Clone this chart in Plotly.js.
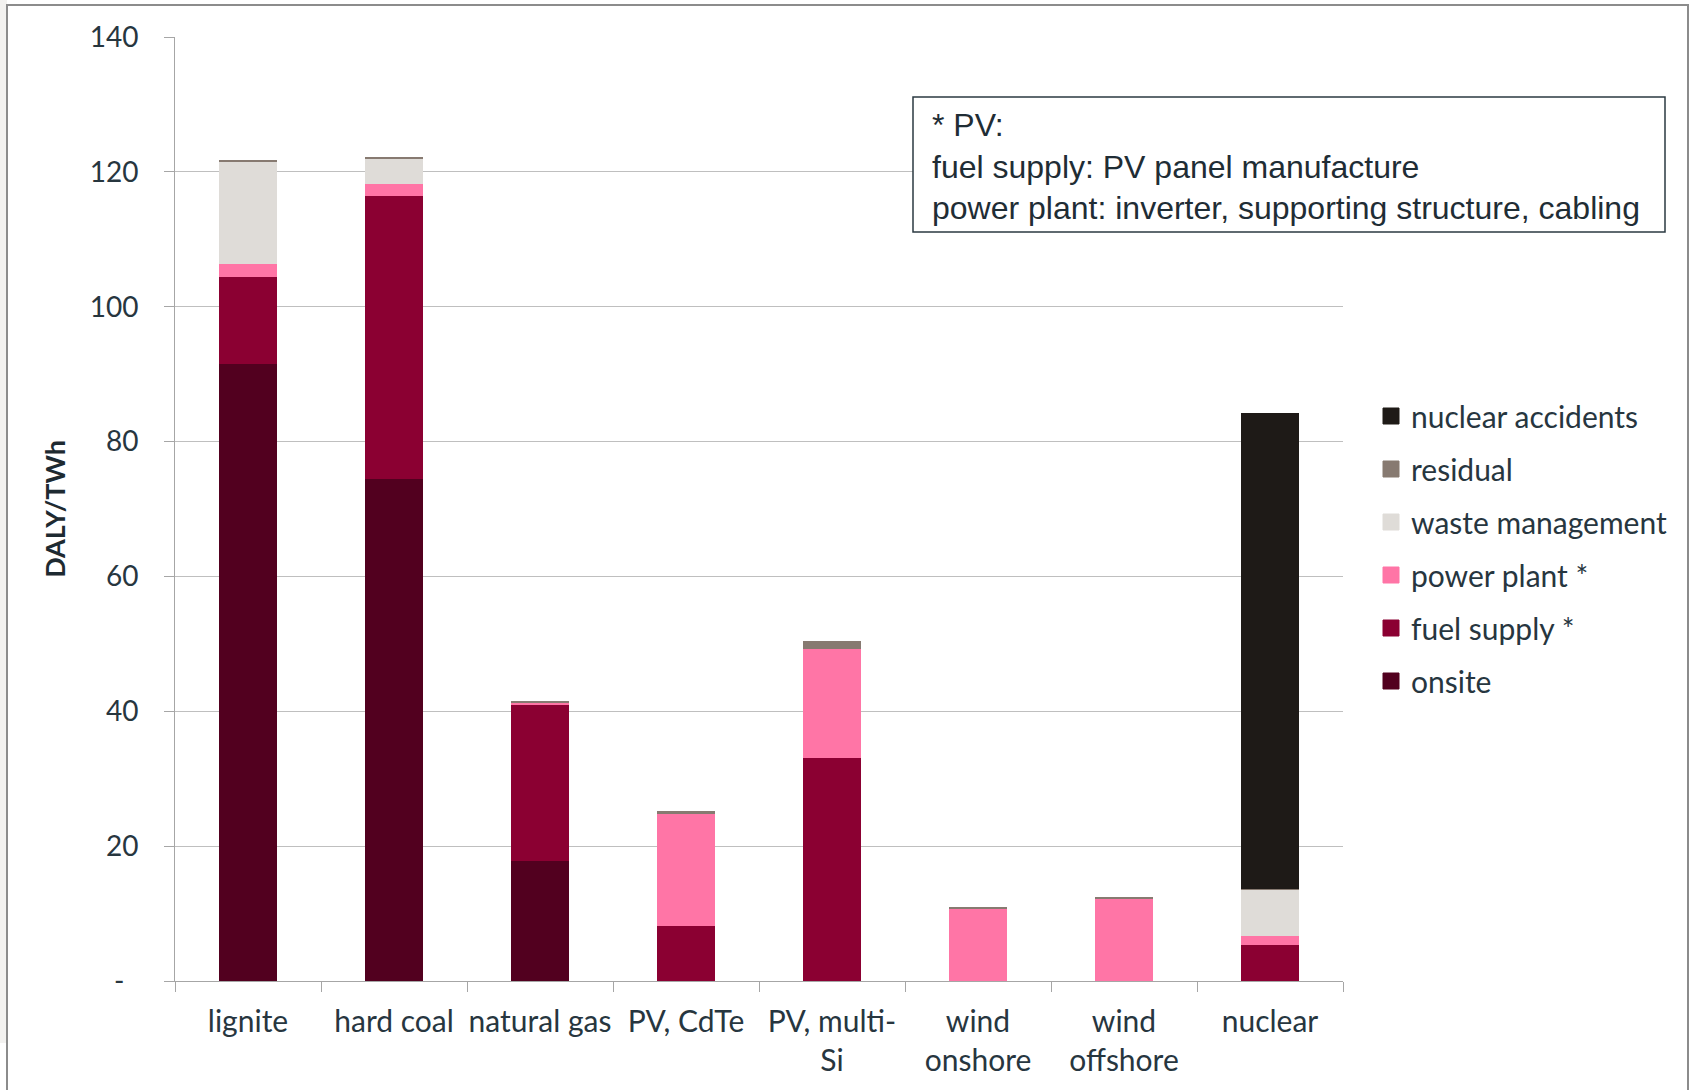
<!DOCTYPE html>
<html>
<head>
<meta charset="utf-8">
<script src="https://cdn.plot.ly/plotly-3.0.1.min.js"></script>
<style>
  html, body { margin: 0; padding: 0; background: #ffffff; }
  #chart { width: 1692px; height: 1090px; }
</style>
</head>
<body>
<div id="chart"></div>
<script>
// ---- data (DALY/TWh) ----
const categories = ['lignite', 'hard coal', 'natural gas', 'PV, CdTe', 'PV, multi-Si', 'wind onshore', 'wind offshore', 'nuclear'];
const tickLabels = ['lignite', 'hard coal', 'natural gas', 'PV, CdTe', 'PV, multi-<br>Si', 'wind<br>onshore', 'wind<br>offshore', 'nuclear'];

const onsite           = [91.5, 74.4, 17.8, 0,    0,    0,    0,    0];
const fuelSupply       = [12.9, 42.0, 23.1, 8.2,  33.1, 0,    0,    5.4];
const powerPlant       = [1.9,  1.8,  0.4,  16.5, 16.1, 10.7, 12.3, 1.3];
const wasteManagement  = [15.2, 3.7,  0.05, 0,    0,    0,    0,    6.9];
const residual         = [0.2,  0.3,  0.15, 0.5,  1.25, 0.15, 0.15, 0.1];
const nuclearAccidents = [0,    0,    0,    0,    0,    0,    0,    70.6];

const yTickVals = [0, 20, 40, 60, 80, 100, 120, 140];
const yTickText = ['-\u2002', '20', '40', '60', '80', '100', '120', '140'];

const seriesNames  = ['onsite', 'fuel supply *', 'power plant *', 'waste management', 'residual', 'nuclear accidents'];
const seriesValues = [onsite, fuelSupply, powerPlant, wasteManagement, residual, nuclearAccidents];
const seriesColors = ['#52001f', '#8b0032', '#ff75a6', '#dfdcd8', '#877a71', '#1e1a17'];

const noteText = '* PV:<br>fuel supply: PV panel manufacture<br>power plant: inverter, supporting structure, cabling';

// ---- traces: stacked bars ----
const barTraces = seriesNames.map((name, i) => ({
  type: 'bar',
  name: name,
  x: categories,
  y: seriesValues[i],
  marker: { color: seriesColors[i], line: { width: 0 } },
  legendgroup: 'g' + i,
  showlegend: false,
  hoverinfo: 'x+y+name'
}));

// legend-only entries (larger square swatches), top-most series first
const legendTraces = seriesNames.map((name, i) => ({
  type: 'scatter',
  mode: 'markers',
  name: name,
  x: [null],
  y: [null],
  marker: { symbol: 'square', size: 16, color: seriesColors[i], line: { width: 1, color: seriesColors[i] } },
  legendgroup: 'g' + i,
  legendrank: seriesNames.length - i,
  showlegend: true,
  hoverinfo: 'skip'
}));

const textColor = '#27363f';
const W = 1692, H = 1090;
const mL = 175, mR = 349, mT = 37, mB = 109;
const pw = W - mL - mR, ph = H - mT - mB;
const px = v => (v - mL) / pw;          // pixel -> paper x
const py = v => 1 - (v - mT) / ph;      // pixel -> paper y

const layout = {
  width: W,
  height: H,
  margin: { l: mL, r: mR, t: mT, b: mB, pad: 0 },
  paper_bgcolor: '#ffffff',
  plot_bgcolor: '#ffffff',
  barmode: 'stack',
  bargap: 0.6,
  showlegend: true,
  font: { family: 'Lato, "Open Sans", sans-serif', color: textColor },
  xaxis: {
    type: 'category',
    tickvals: categories,
    ticktext: tickLabels,
    tickangle: 0,
    tickson: 'boundaries',
    ticks: 'outside',
    ticklen: 10,
    tickcolor: '#a6a6a6',
    tickwidth: 1,
    showline: true,
    linecolor: '#a6a6a6',
    linewidth: 1,
    showgrid: false,
    zeroline: false,
    tickfont: { family: 'Lato, sans-serif', size: 30, color: textColor },
    ticklabelstandoff: 14,
    automargin: false
  },
  yaxis: {
    range: [0, 140],
    tickvals: yTickVals,
    ticktext: yTickText,
    ticks: 'outside',
    ticklen: 10,
    tickcolor: '#a6a6a6',
    tickwidth: 1,
    showline: true,
    linecolor: '#a6a6a6',
    linewidth: 1,
    showgrid: true,
    gridcolor: '#bfbfbf',
    gridwidth: 1,
    zeroline: false,
    tickfont: { family: 'Lato, sans-serif', size: 28, color: textColor },
    ticklabelstandoff: 20,
    title: {
      text: 'DALY/TWh',
      font: { family: 'Lato, sans-serif', size: 27, color: '#1e2a31', weight: 'bold' },
      standoff: 16
    },
    automargin: true
  },
  legend: {
    x: px(1371),
    y: py(390),
    xanchor: 'left',
    yanchor: 'top',
    traceorder: 'grouped',
    tracegroupgap: 11,
    bgcolor: 'rgba(0,0,0,0)',
    borderwidth: 0,
    font: { family: 'Lato, sans-serif', size: 30, color: textColor }
  },
  shapes: [
    // left grey strip of page
    { type: 'rect', xref: 'paper', yref: 'paper', layer: 'below',
      x0: px(0), x1: px(7), y0: py(1043), y1: py(0),
      fillcolor: '#f3f2f0', line: { width: 0 } },
    // outer frame
    { type: 'rect', xref: 'paper', yref: 'paper', layer: 'above',
      x0: px(7), x1: px(1688), y0: py(1100), y1: py(5),
      fillcolor: 'rgba(0,0,0,0)', line: { color: '#8c8c8c', width: 2 } },
    // note box
    { type: 'rect', xref: 'paper', yref: 'paper', layer: 'above',
      x0: px(913), x1: px(1665), y0: py(232), y1: py(97),
      fillcolor: '#ffffff', line: { color: '#2b3a42', width: 1.5 } }
  ],
  annotations: [
    { xref: 'paper', yref: 'paper', x: px(930), y: py(105),
      xanchor: 'left', yanchor: 'top', align: 'left', showarrow: false,
      text: noteText,
      font: { family: '"Liberation Sans", Arial, sans-serif', size: 32, color: '#1f2d35' } }
  ]
};

Plotly.newPlot('chart', barTraces.concat(legendTraces), layout, { displayModeBar: false, responsive: false });
</script>
</body>
</html>
